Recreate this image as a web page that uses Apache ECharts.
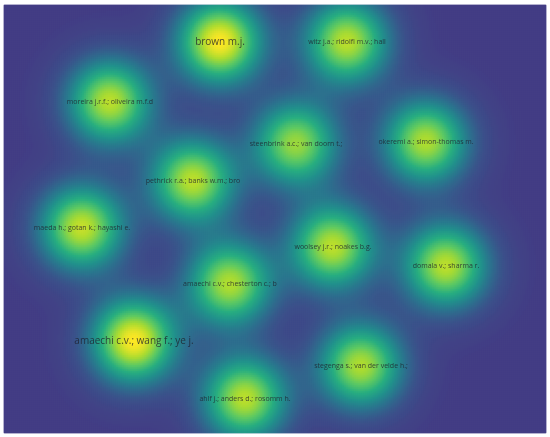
<!DOCTYPE html>
<html>
<head>
<meta charset="utf-8">
<script src="https://cdn.jsdelivr.net/npm/echarts@6/dist/echarts.min.js"></script>
<style>
  html, body { margin: 0; padding: 0; background: #fff; }
  #chart { width: 550px; height: 437px; }
</style>
</head>
<body>
<div id="chart"></div>
<script>
// nodes of the density map (map units: 0..542 across, 0..428 down)
const labels = [
  'brown m.j.',
  'witz j.a.; ridolfi m.v.; hall',
  'moreira j.r.f.; oliveira m.f.d',
  'steenbrink a.c.; van doorn t.;',
  'okeremi a.; simon-thomas m.',
  'pethrick r.a.; banks w.m.; bro',
  'maeda h.; gotan k.; hayashi e.',
  'woolsey j.r.; noakes b.g.',
  'domala v.; sharma r.',
  'amaechi c.v.; chesterton c.; b',
  'amaechi c.v.; wang f.; ye j.',
  'stegenga s.; van der velde h.;',
  'ahlf j.; anders d.; rosomm h.'
]
const nodeX = [216, 343, 106, 292, 422, 189, 78, 329, 442, 226, 130, 357, 241]
const nodeY = [37, 37, 97, 139, 137, 176, 223, 242, 261, 279, 336, 361, 394]
const weights = [1.0, 0.88, 0.88, 0.82, 0.86, 0.88, 0.9, 0.88, 0.88, 0.86, 1.0, 0.86, 0.88]

const mapW = 542
const mapH = 428
const cell = 2
const sigma = 30

let chart = echarts.init(document.getElementById('chart'))

// kernel density over the node list
let cols = mapW / cell
let rows = mapH / cell
let xCats = []
let yCats = []
for (let i = 0; i < cols; i++) xCats.push(i)
for (let j = 0; j < rows; j++) yCats.push(j)
let density = []
for (let i = 0; i < cols; i++) {
  for (let j = 0; j < rows; j++) {
    let cx = i * cell + cell / 2
    let cy = j * cell + cell / 2
    let v = 0
    for (let k = 0; k < labels.length; k++) {
      let dx = cx - nodeX[k]
      let dy = cy - nodeY[k]
      v += weights[k] * Math.exp(-(dx * dx + dy * dy) / (2 * sigma * sigma))
    }
    density.push([i, j, Math.min(v, 1)])
  }
}

let labelData = labels.map(function (name, k) {
  let big = weights[k] >= 1
  return {
    name: name,
    value: [nodeX[k], nodeY[k]],
    label: { fontSize: big ? 10 : 7 }
  }
})

let gridPos = { left: 4, top: 5, width: mapW, height: mapH }

chart.setOption({
  animation: false,
  backgroundColor: '#ffffff',
  grid: [
    Object.assign({ show: true, borderColor: '#c9c5dd', borderWidth: 1, backgroundColor: '#433d84' }, gridPos),
    Object.assign({}, gridPos)
  ],
  xAxis: [
    { type: 'category', data: xCats, gridIndex: 0, show: false },
    { type: 'value', min: 0, max: mapW, gridIndex: 1, show: false }
  ],
  yAxis: [
    { type: 'category', data: yCats, gridIndex: 0, inverse: true, show: false },
    { type: 'value', min: 0, max: mapH, gridIndex: 1, inverse: true, show: false }
  ],
  visualMap: {
    show: false,
    min: 0,
    max: 1,
    seriesIndex: 0,
    inRange: {
      color: ['#433d84', '#3b528b', '#2c728e', '#21918c', '#28ae80', '#5ec962', '#addc30', '#fde725']
    }
  },
  series: [
    {
      type: 'heatmap',
      xAxisIndex: 0,
      yAxisIndex: 0,
      data: density,
      progressive: 0,
      itemStyle: { borderWidth: 0 },
      emphasis: { disabled: true }
    },
    {
      type: 'scatter',
      xAxisIndex: 1,
      yAxisIndex: 1,
      symbolSize: 0,
      data: labelData,
      silent: true,
      label: {
        show: true,
        position: 'inside',
        formatter: '{b}',
        color: '#1f1f2c',
        fontFamily: 'Open Sans'
      },
      z: 5
    }
  ]
})

window.addEventListener('resize', function () {
  chart.resize()
})
</script>
</body>
</html>
